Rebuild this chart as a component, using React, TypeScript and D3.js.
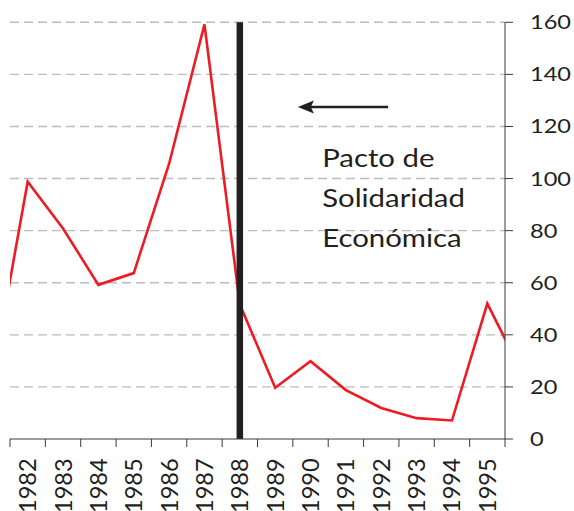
import React from "react";
import * as d3 from "d3";

const years = [1981, 1982, 1983, 1984, 1985, 1986, 1987, 1988, 1989, 1990, 1991, 1992, 1993, 1994, 1995, 1996];
const inflation = [23, 98.8, 80.8, 59.2, 63.7, 105.7, 159.2, 51.7, 19.7, 29.9, 18.8, 11.9, 8.0, 7.1, 52.0, 25];
const yearLabels = ["1982", "1983", "1984", "1985", "1986", "1987", "1988", "1989", "1990", "1991", "1992", "1993", "1994", "1995"];
const yTicks = [0, 20, 40, 60, 80, 100, 120, 140, 160];
const pactYear = 1988;
const noteLines = ["Pacto de", "Solidaridad", "Económica"];

const W = 574, H = 511;
const left = 10, right = 505, top = 22.3, bottom = 439;
const FONT = "Lato, 'Open Sans', sans-serif";
const SX = 1.21;

export default function App() {
  const x = d3.scaleLinear().domain([1981.5, 1995.5]).range([left, right]);
  const y = d3.scaleLinear().domain([0, 160]).range([bottom, top]);
  const line = d3.line<number>().x((_, i) => x(years[i])).y((d) => y(d));
  const tickPos = d3.range(0, yearLabels.length + 1).map((i) => x(1981.5 + i));

  const arrowY = y(127.5);
  const arrowTip = x(1989) + 22.7;
  const arrowEnd = x(1990) + 77.6;
  const noteX = x(1990) + 11.6;

  return (
    <svg width={W} height={H} style={{ position: "absolute", left: 0, top: 0, background: "#fff" }}>
      <defs>
        <clipPath id="plot">
          <rect x={left} y={0} width={right - left} height={bottom} />
        </clipPath>
      </defs>
      {yTicks.filter((t) => t > 0).map((t) => (
        <line key={t} x1={left} x2={right} y1={y(t)} y2={y(t)} stroke="#bcbcbc" strokeWidth={1.4} strokeDasharray="9,5" />
      ))}
      <path d={line(inflation) || ""} fill="none" stroke="#ed1c24" strokeWidth={2.6} strokeLinejoin="miter" clipPath="url(#plot)" />
      <line x1={x(pactYear)} x2={x(pactYear)} y1={y(160)} y2={bottom} stroke="#231f20" strokeWidth={6.5} />
      {/* bottom axis */}
      <line x1={left} x2={right} y1={bottom} y2={bottom} stroke="#3a3a3a" strokeWidth={1} />
      {tickPos.map((p, i) => (
        <line key={i} x1={p} x2={p} y1={bottom} y2={bottom + 8} stroke="#3a3a3a" strokeWidth={1} />
      ))}
      {yearLabels.map((lab) => (
        <text
          key={lab}
          transform={`translate(${x(+lab)},458.3) rotate(-90)`}
          dy="0.36em"
          textAnchor="end"
          fontFamily={FONT}
          fontSize={23.6}
          fill="#231f20"
        >
          {lab}
        </text>
      ))}
      {/* right axis */}
      <line x1={right} x2={right} y1={y(160)} y2={bottom} stroke="#3a3a3a" strokeWidth={1} />
      {yTicks.map((t) => (
        <g key={t}>
          <line x1={right} x2={right + 8} y1={y(t)} y2={y(t)} stroke="#3a3a3a" strokeWidth={1} />
          <text
            transform={`translate(530,${y(t)}) scale(${SX},1)`}
            dy="0.36em"
            fontFamily={FONT}
            fontSize={19.5}
            fill="#231f20"
          >
            {t}
          </text>
        </g>
      ))}
      {/* arrow */}
      <line x1={arrowEnd} x2={arrowTip + 12} y1={arrowY} y2={arrowY} stroke="#231f20" strokeWidth={2.5} />
      <path
        d={`M${arrowTip},${arrowY} L${arrowTip + 16},${arrowY - 6.5} L${arrowTip + 13},${arrowY} L${arrowTip + 16},${arrowY + 6.5} Z`}
        fill="#231f20"
      />
      {noteLines.map((s, i) => (
        <text
          key={s}
          transform={`translate(${noteX},${166.7 + i * 40}) scale(1.19,1)`}
          fontFamily={FONT}
          fontSize={24.7}
          fill="#231f20"
        >
          {s}
        </text>
      ))}
    </svg>
  );
}
